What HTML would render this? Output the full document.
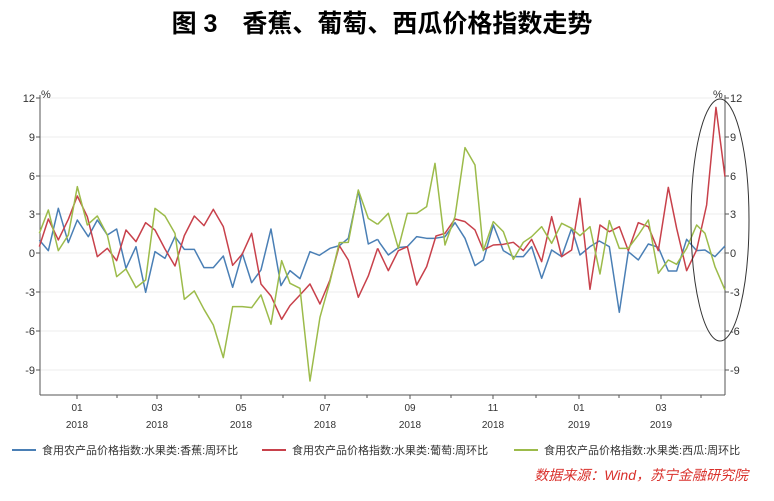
<!DOCTYPE html>
<html><head><meta charset="utf-8"><style>
body{margin:0;width:774px;height:496px;background:#fff;overflow:hidden;font-family:"Liberation Sans","Noto Sans CJK SC",sans-serif}
</style></head><body>
<svg width="774" height="496" viewBox="0 0 774 496" xmlns="http://www.w3.org/2000/svg" font-family="Liberation Sans, Noto Sans CJK SC, sans-serif">
<text x="382" y="32" text-anchor="middle" font-size="25" font-weight="bold" fill="#000">图 3　香蕉、葡萄、西瓜价格指数走势</text>
<g stroke="#eee" stroke-width="1">
<line x1="40" x2="725" y1="98" y2="98"/><line x1="40" x2="725" y1="137" y2="137"/><line x1="40" x2="725" y1="176" y2="176"/><line x1="40" x2="725" y1="214" y2="214"/><line x1="40" x2="725" y1="253" y2="253"/><line x1="40" x2="725" y1="292" y2="292"/><line x1="40" x2="725" y1="331" y2="331"/><line x1="40" x2="725" y1="370" y2="370"/>
</g>
<g stroke="#555" stroke-width="1" fill="none">
<line x1="40" y1="95" x2="40" y2="395"/><line x1="725" y1="95" x2="725" y2="395"/><line x1="40" y1="395" x2="725" y2="395"/>
<path d="M36,98h4M36,137h4M36,176h4M36,214h4M36,253h4M36,292h4M36,331h4M36,370h4M725,98h4M725,137h4M725,176h4M725,214h4M725,253h4M725,292h4M725,331h4M725,370h4"/>
<path d="M77,395v4M117,395v3M157,395v4M199,395v3M241,395v4M283,395v3M325,395v4M367,395v3M410,395v4M451,395v3M493,395v4M536,395v3M579,395v4M619,395v3M661,395v4M701,395v3"/>
</g>
<g font-size="11" fill="#333">
<text x="35" y="102" text-anchor="end">12</text><text x="35" y="141" text-anchor="end">9</text><text x="35" y="180" text-anchor="end">6</text><text x="35" y="218" text-anchor="end">3</text><text x="35" y="257" text-anchor="end">0</text><text x="35" y="296" text-anchor="end">-3</text><text x="35" y="335" text-anchor="end">-6</text><text x="35" y="374" text-anchor="end">-9</text>
<text x="730" y="102">12</text><text x="730" y="141">9</text><text x="730" y="180">6</text><text x="730" y="218">3</text><text x="730" y="257">0</text><text x="730" y="296">-3</text><text x="730" y="335">-6</text><text x="730" y="374">-9</text>
<text x="41" y="98">%</text><text x="713" y="98">%</text>
<g font-size="10" text-anchor="middle">
<text x="77" y="411">01</text><text x="157" y="411">03</text><text x="241" y="411">05</text><text x="325" y="411">07</text><text x="410" y="411">09</text><text x="493" y="411">11</text><text x="579" y="411">01</text><text x="661" y="411">03</text>
<text x="77" y="428">2018</text><text x="157" y="428">2018</text><text x="241" y="428">2018</text><text x="325" y="428">2018</text><text x="410" y="428">2018</text><text x="493" y="428">2018</text><text x="579" y="428">2019</text><text x="661" y="428">2019</text>
</g></g>
<g stroke-width="1.5" fill="none" stroke-linejoin="round">
<g transform="translate(0,80) scale(0.3333)">
<polyline vector-effect="non-scaling-stroke" stroke="#4a7fb5" points="118,480 145,512 175,385 205,488 232,420 265,470 292,420 322,465 350,447 378,565 408,500 437,637 465,515 495,535 525,470 553,508 583,508 612,563 640,563 670,528 698,622 727,520 755,608 783,570 813,447 843,617 870,572 900,596 930,515 958,526 990,505 1018,497 1045,475 1075,333 1105,492 1133,478"/>
<polyline vector-effect="non-scaling-stroke" stroke="#c8414b" points="118,500 145,417 175,480 205,418 232,348 262,410 292,530 322,505 350,542 378,450 408,485 437,428 465,450 495,507 525,558 553,467 583,408 612,437 640,388 670,440 698,556 727,522 755,460 783,612 813,648 845,718 870,677 900,645 930,612 960,672 990,600 1018,497 1045,540 1075,652 1105,588 1133,505"/>
<polyline vector-effect="non-scaling-stroke" stroke="#9cbb4a" points="118,460 145,390 175,512 205,465 232,320 262,435 292,408 322,465 350,590 378,567 408,623 437,600 465,385 495,408 525,460 553,658 583,633 612,688 640,735 670,833 698,680 727,680 755,683 783,645 813,733 845,542 870,610 900,625 930,903 960,712 990,605 1018,488 1045,487 1075,330 1105,415 1133,433"/>
</g>
<g transform="translate(380,80) scale(0.3333)">
<polyline vector-effect="non-scaling-stroke" stroke="#4a7fb5" points="-7,478 0,490 25,525 55,503 82,500 110,470 140,475 165,475 195,470 225,428 255,475 285,557 310,540 340,435 370,512 400,530 430,530 455,500 485,595 515,510 545,530 575,445 600,525 630,500 658,483 688,500 718,697 745,515 775,540 805,492 835,502 865,573 890,573 920,478 950,512 975,510 1005,530 1035,498"/>
<polyline vector-effect="non-scaling-stroke" stroke="#c8414b" points="-7,505 25,572 55,512 82,500 110,615 140,560 168,468 195,460 225,417 255,425 285,450 310,510 340,495 370,493 400,487 430,512 455,478 485,545 515,410 545,530 575,510 600,355 630,628 660,435 688,455 718,440 745,512 775,428 805,440 835,512 865,322 890,445 920,572 950,510 980,375 1008,82 1035,290"/>
<polyline vector-effect="non-scaling-stroke" stroke="#9cbb4a" points="-7,433 25,400 55,505 82,400 110,400 140,380 165,250 195,495 225,410 255,203 285,255 310,512 340,425 370,455 400,538 430,487 455,470 485,440 515,490 545,430 575,445 600,467 630,440 660,582 688,422 718,505 745,505 775,465 805,420 835,580 865,540 890,553 920,505 950,435 975,460 1005,560 1035,630"/>
</g>
</g>
<ellipse cx="720" cy="220" rx="29" ry="121" fill="none" stroke="#333" stroke-width="1"/>
<g font-size="11" fill="#333">
<line x1="12" y1="450" x2="36" y2="450" stroke="#4a7fb5" stroke-width="2"/><text x="42" y="454">食用农产品价格指数:水果类:香蕉:周环比</text>
<line x1="262" y1="450" x2="286" y2="450" stroke="#c8414b" stroke-width="2"/><text x="292" y="454">食用农产品价格指数:水果类:葡萄:周环比</text>
<line x1="514" y1="450" x2="538" y2="450" stroke="#9cbb4a" stroke-width="2"/><text x="544" y="454">食用农产品价格指数:水果类:西瓜:周环比</text>
</g>
<text x="748" y="480" text-anchor="end" font-size="14" font-style="italic" fill="#d9302b">数据来源：Wind，苏宁金融研究院</text>
</svg>
</body></html>
